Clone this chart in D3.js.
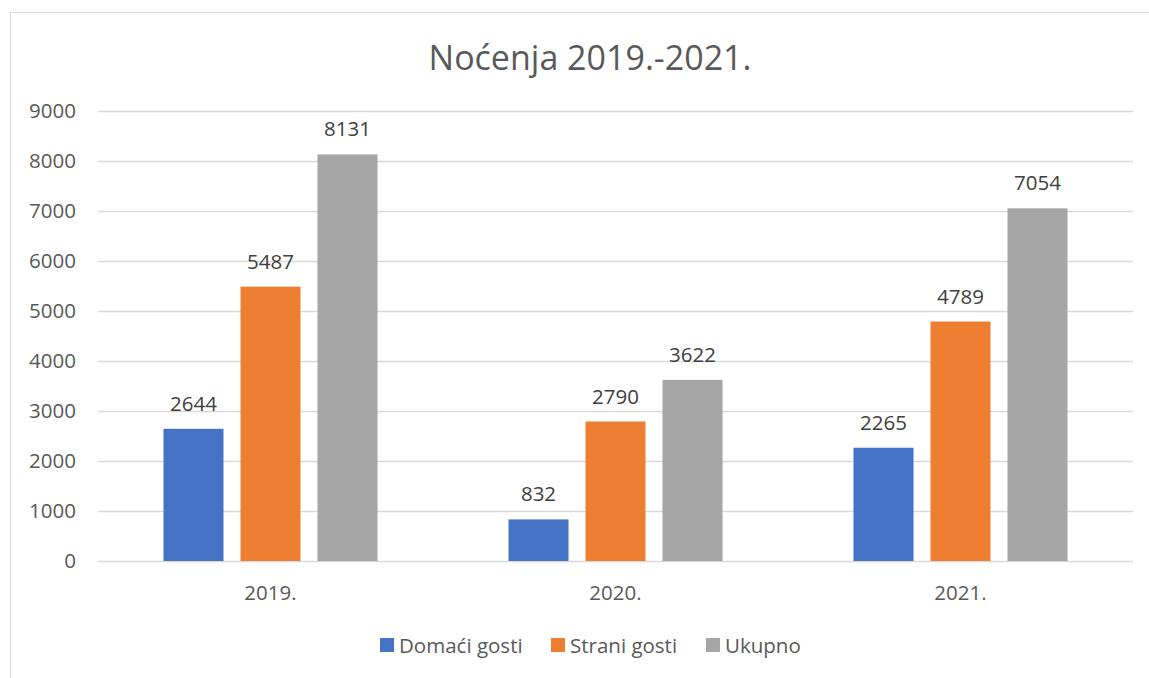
<!DOCTYPE html>
<html>
<head>
<meta charset="utf-8">
<script src="https://cdn.jsdelivr.net/npm/d3@7"></script>
<style>
body { margin: 0; background: #fff; }
svg { font-family: "Open Sans", "Noto Sans", sans-serif; }
</style>
</head>
<body>
<div id="chart"></div>
<script>
var years = ["2019.", "2020.", "2021."];
var seriesNames = ["Domaći gosti", "Strani gosti", "Ukupno"];
var domaci = [2644, 832, 2265];
var strani = [5487, 2790, 4789];
var ukupno = [8131, 3622, 7054];
var colors = ["#4472C4", "#ED7D31", "#A5A5A5"];
var yTicks = [0, 1000, 2000, 3000, 4000, 5000, 6000, 7000, 8000, 9000];

var width = 1149, height = 678;
var plot = {left: 98, right: 1133, top: 111, bottom: 561};
var textColor = "#595959";
var fontSize = "20.5px";

var svg = d3.select("#chart").append("svg")
	.attr("width", width)
	.attr("height", height);

// chart border
svg.append("rect")
	.attr("x", 10.5).attr("y", 12.5)
	.attr("width", 1160).attr("height", 700)
	.attr("fill", "none")
	.attr("stroke", "#d9d9d9")
	.attr("stroke-width", 1);

var x0 = d3.scaleBand()
	.domain(years)
	.range([plot.left, plot.right]);
var y = d3.scaleLinear()
	.domain([0, 9000])
	.range([plot.bottom, plot.top]);

// gridlines
svg.append("g").selectAll("line")
	.data(yTicks)
	.enter().append("line")
	.attr("x1", plot.left).attr("x2", plot.right)
	.attr("y1", function(d){ return Math.round(y(d)) + 0.5; })
	.attr("y2", function(d){ return Math.round(y(d)) + 0.5; })
	.attr("stroke", "#d9d9d9")
	.attr("stroke-width", 1.5);

// y axis labels
var yAxis = svg.append("g")
	.attr("transform", "translate(" + (plot.left - 22) + ",0)")
	.call(d3.axisLeft(y).tickValues(yTicks).tickSize(0).tickPadding(0).tickFormat(d3.format("d")));
yAxis.select(".domain").remove();
yAxis.selectAll("text")
	.attr("fill", textColor)
	.attr("font-size", fontSize)
	.attr("font-family", "\"Open Sans\", sans-serif");

// x axis labels
var xAxis = svg.append("g")
	.attr("transform", "translate(0," + (plot.bottom + 24) + ")")
	.call(d3.axisBottom(x0).tickSize(0).tickPadding(0));
xAxis.select(".domain").remove();
xAxis.selectAll("text")
	.attr("fill", textColor)
	.attr("font-size", fontSize)
	.attr("font-family", "\"Open Sans\", sans-serif");

// bars: 60px wide, 17px apart
var seriesData = [domaci, strani, ukupno];
var groupWidth = 60 * 3 + 17 * 2;
var x1 = d3.scaleBand()
	.domain(d3.range(seriesNames.length))
	.range([0, groupWidth])
	.paddingInner(17 / 77);

var groups = svg.append("g").selectAll("g")
	.data(years)
	.enter().append("g")
	.attr("transform", function(d){ return "translate(" + (x0(d) + x0.bandwidth() / 2 - groupWidth / 2) + ",0)"; });

groups.selectAll("rect")
	.data(function(d, i){ return seriesData.map(function(s, k){ return {k: k, value: s[i]}; }); })
	.enter().append("rect")
	.attr("x", function(d){ return x1(d.k); })
	.attr("y", function(d){ return y(d.value); })
	.attr("width", x1.bandwidth())
	.attr("height", function(d){ return y(0) - y(d.value); })
	.attr("fill", function(d){ return colors[d.k]; });

groups.selectAll("text")
	.data(function(d, i){ return seriesData.map(function(s, k){ return {k: k, value: s[i]}; }); })
	.enter().append("text")
	.attr("x", function(d){ return x1(d.k) + x1.bandwidth() / 2; })
	.attr("y", function(d){ return y(d.value) - 18; })
	.attr("text-anchor", "middle")
	.attr("fill", "#404040")
	.attr("font-size", fontSize)
	.text(function(d){ return d.value; });

// title
svg.append("text")
	.attr("x", 590).attr("y", 70)
	.attr("text-anchor", "middle")
	.attr("fill", textColor)
	.attr("font-size", "34px")
	.text("Noćenja 2019.-2021.");

// legend
var legendX = [380, 551, 706];
var legend = svg.append("g").selectAll("g")
	.data(seriesNames)
	.enter().append("g")
	.attr("transform", function(d, i){ return "translate(" + legendX[i] + ",638)"; });
legend.append("rect")
	.attr("width", 14).attr("height", 14)
	.attr("fill", function(d, i){ return colors[i]; });
legend.append("text")
	.attr("x", 19).attr("y", 15)
	.attr("fill", textColor)
	.attr("font-size", fontSize)
	.text(function(d){ return d; });
</script>
</body>
</html>
